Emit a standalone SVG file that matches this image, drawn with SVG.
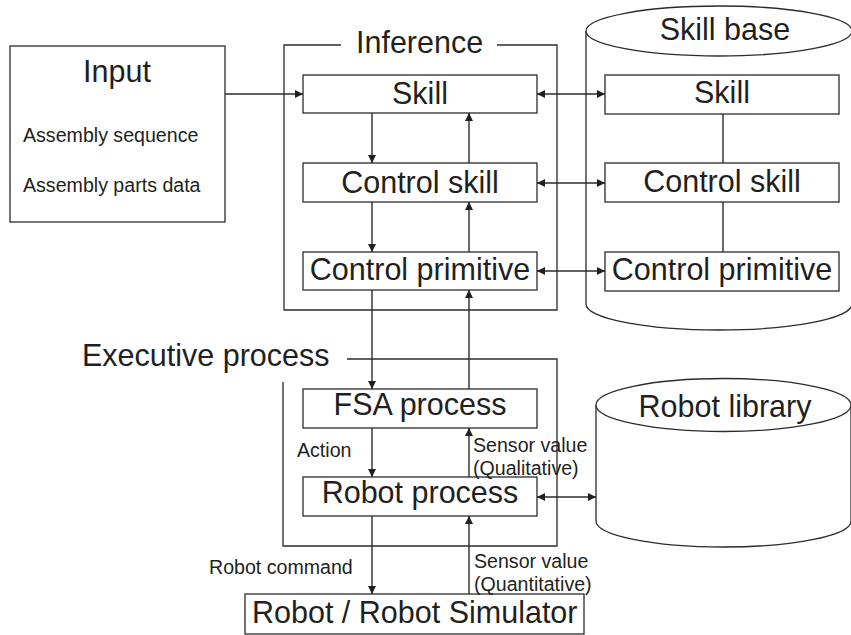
<svg xmlns="http://www.w3.org/2000/svg" width="851" height="635" viewBox="0 0 851 635">
  <style>
    .box { fill: #ffffff; stroke: #2b2b2b; stroke-width: 1.3; }
    .frame { fill: none; stroke: #2b2b2b; stroke-width: 1.3; }
    .line { fill: none; stroke: #2b2b2b; stroke-width: 1.4; }
    .big { font-family: "Liberation Sans", Arial, sans-serif; font-size: 30.5px; fill: #231f20; }
    .mid { font-family: "Liberation Sans", Arial, sans-serif; font-size: 29.5px; fill: #231f20; }
    .small { font-family: "Liberation Sans", Arial, sans-serif; font-size: 19.6px; fill: #231f20; }
    .c { text-anchor: middle; }
  </style>
  <defs>
    <marker id="arrow" viewBox="0 0 10 10" refX="10" refY="5" markerWidth="10" markerHeight="8" markerUnits="userSpaceOnUse" orient="auto-start-reverse">
      <path d="M0,0 L10,5 L0,10 z" fill="#231f20"/>
    </marker>
  </defs>

  <rect width="851" height="635" fill="#ffffff"/>

  <!-- Input -->
  <g id="input">
    <rect class="box" x="10" y="46" width="215" height="176"/>
    <text class="big c" x="117" y="82">Input</text>
    <text class="small" x="23" y="142">Assembly sequence</text>
    <text class="small" x="23" y="192">Assembly parts data</text>
  </g>

  <!-- Inference frame -->
  <g id="inference">
    <path class="frame" d="M341,45 H284 V310 H557 V45 H497"/>
    <text class="big" x="356" y="53">Inference</text>
  </g>

  <!-- Skill base cylinder -->
  <g id="skill-base">
    <path class="box" d="M586,31 V304 A133,26 0 0 0 852,304 V31"/>
    <ellipse class="box" cx="719" cy="31" rx="133" ry="25"/>
    <text class="big c" x="725" y="40">Skill base</text>
  </g>

  <!-- Robot library cylinder -->
  <g id="robot-library">
    <path class="box" d="M596,405 V521 A127.5,26 0 0 0 851,521 V405"/>
    <ellipse class="box" cx="723.5" cy="405" rx="127.5" ry="26.5"/>
    <text class="big c" x="725" y="417">Robot library</text>
  </g>

  <!-- Executive process frame -->
  <g id="executive">
    <path class="frame" d="M347,359 H557 V546 H283 V382"/>
    <text class="big" x="82" y="366">Executive process</text>
  </g>

  <!-- Inference nodes -->
  <g id="inf-skill">
    <rect class="box" x="303" y="75" width="234" height="38"/>
    <text class="big c" x="420" y="104">Skill</text>
  </g>
  <g id="inf-control-skill">
    <rect class="box" x="303" y="163" width="234" height="39"/>
    <text class="big c" x="420" y="193">Control skill</text>
  </g>
  <g id="inf-control-primitive">
    <rect class="box" x="303" y="252" width="234" height="38"/>
    <text class="big c" x="420" y="280">Control primitive</text>
  </g>

  <!-- Skill base nodes -->
  <g id="sb-skill">
    <rect class="box" x="605" y="75" width="234" height="39"/>
    <text class="big c" x="722" y="103">Skill</text>
  </g>
  <g id="sb-control-skill">
    <rect class="box" x="605" y="163" width="234" height="39"/>
    <text class="big c" x="722" y="192">Control skill</text>
  </g>
  <g id="sb-control-primitive">
    <rect class="box" x="605" y="252" width="234" height="39"/>
    <text class="big c" x="722" y="280">Control primitive</text>
  </g>

  <!-- Executive nodes -->
  <g id="fsa-process">
    <rect class="box" x="303" y="389" width="234" height="39"/>
    <text class="big c" x="420" y="415">FSA process</text>
  </g>
  <g id="robot-process">
    <rect class="box" x="303" y="477" width="234" height="39"/>
    <text class="big c" x="420" y="503">Robot process</text>
  </g>

  <!-- Robot / simulator -->
  <g id="robot-simulator">
    <rect class="box" x="245" y="594" width="339" height="40"/>
    <text class="big" x="252" y="623">Robot / Robot Simulator</text>
  </g>

  <!-- Connectors -->
  <g id="connectors">
    <line class="line" x1="225" y1="94" x2="303" y2="94" marker-end="url(#arrow)"/>

    <line class="line" x1="372" y1="113" x2="372" y2="163" marker-end="url(#arrow)"/>
    <line class="line" x1="469" y1="163" x2="469" y2="113" marker-end="url(#arrow)"/>
    <line class="line" x1="372" y1="202" x2="372" y2="252" marker-end="url(#arrow)"/>
    <line class="line" x1="469" y1="252" x2="469" y2="202" marker-end="url(#arrow)"/>
    <line class="line" x1="372" y1="290" x2="372" y2="389" marker-end="url(#arrow)"/>
    <line class="line" x1="469" y1="389" x2="469" y2="290" marker-end="url(#arrow)"/>
    <line class="line" x1="372" y1="428" x2="372" y2="477" marker-end="url(#arrow)"/>
    <line class="line" x1="469" y1="477" x2="469" y2="428" marker-end="url(#arrow)"/>
    <line class="line" x1="372" y1="516" x2="372" y2="594" marker-end="url(#arrow)"/>
    <line class="line" x1="469" y1="594" x2="469" y2="516" marker-end="url(#arrow)"/>

    <line class="line" x1="537" y1="94" x2="605" y2="94" marker-start="url(#arrow)" marker-end="url(#arrow)"/>
    <line class="line" x1="537" y1="183" x2="605" y2="183" marker-start="url(#arrow)" marker-end="url(#arrow)"/>
    <line class="line" x1="537" y1="271" x2="605" y2="271" marker-start="url(#arrow)" marker-end="url(#arrow)"/>
    <line class="line" x1="537" y1="497" x2="596" y2="497" marker-start="url(#arrow)" marker-end="url(#arrow)"/>

    <line class="line" x1="723" y1="114" x2="723" y2="163"/>
    <line class="line" x1="723" y1="202" x2="723" y2="252"/>

    <text class="small" x="297" y="457">Action</text>
    <text class="small" x="473" y="452">Sensor value</text>
    <text class="small" x="473" y="475">(Qualitative)</text>
    <text class="small" x="209" y="574">Robot command</text>
    <text class="small" x="474" y="568">Sensor value</text>
    <text class="small" x="474" y="591">(Quantitative)</text>
  </g>
</svg>
